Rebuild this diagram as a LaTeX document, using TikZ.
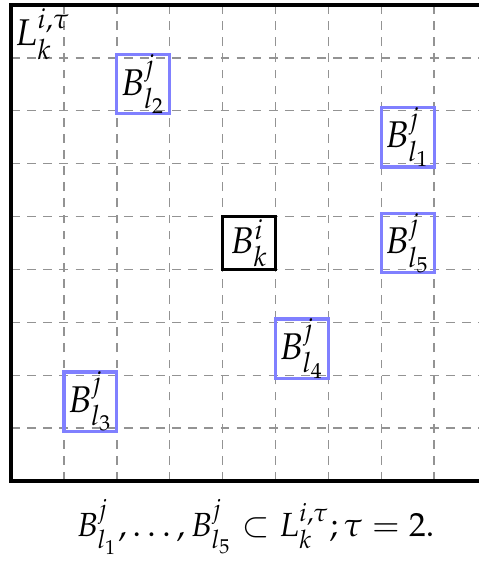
\documentclass[tikz,border=0pt]{standalone}
\usepackage{amsmath,amssymb}
\usepackage{mathpazo}
\usetikzlibrary{positioning}

\begin{document}
\begin{tikzpicture}[
    x=0.6cm, y=0.6cm,
    gridline/.style={gray!85, line width=0.45pt, dash pattern=on 2.8pt off 2.4pt, step=0.6cm},
    frame/.style={line width=1.3pt},
    own/.style={draw, line width=1pt, minimum size=0.6cm, inner sep=0pt, font=\fontsize{12}{14}\selectfont},
    nbr/.style={draw=blue!50, line width=1pt, minimum size=0.6cm, inner sep=0pt, font=\fontsize{12}{14}\selectfont}
]
\useasboundingbox (-0.21,-1.57) rectangle (8.845,9.095);
\clip (-0.21,-1.57) rectangle (8.845,9.095);

% --- grid and frame ---
\draw[gridline] (0,0) grid (9,9);
\draw[frame] (0,0) rectangle (9,9);

% --- region label ---
\node[anchor=north west, inner sep=1pt, font=\fontsize{12}{14}\selectfont] (lik) at (0,9) {$L_k^{i,\tau}$};

% --- own block ---
\node[own] (bk) at (4.5,4.5) {$B_k^i$};

% --- neighbour blocks ---
\node[nbr] (bl1) at (7.5,6.5) {$B^j_{l_1}$};
\node[nbr] (bl2) at (2.5,7.5) {$B^j_{l_2}$};
\node[nbr] (bl3) at (1.5,1.5) {$B^j_{l_3}$};
\node[nbr] (bl4) at (5.5,2.5) {$B^j_{l_4}$};
\node[nbr] (bl5) at (7.5,4.5) {$B^j_{l_5}$};

% --- caption ---
\node[font=\fontsize{10.8}{13}\selectfont] (cap) at (4.62,-0.87) {$B^j_{l_1},\dots,B^j_{l_5}\subset L^{i,\tau}_k;\tau=2.$};
\end{tikzpicture}
\end{document}
